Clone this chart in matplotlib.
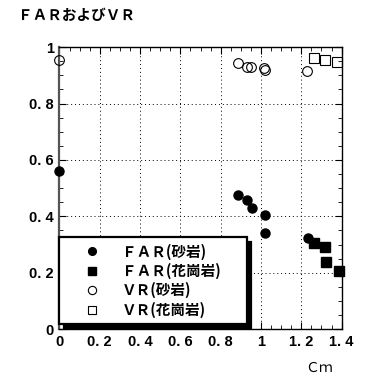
import matplotlib
matplotlib.use("Agg")
import matplotlib.pyplot as plt
from matplotlib.ticker import MultipleLocator

plt.rcParams['font.family'] = ['Noto Sans CJK JP', 'DejaVu Sans']

# FAR / VR vs Cm
far_sand_x = [0.0, 0.887, 0.932, 0.954, 1.02, 1.018, 1.235]
far_sand_y = [0.56, 0.475, 0.459, 0.428, 0.406, 0.341, 0.323]
far_gran_x = [1.263, 1.318, 1.323, 1.389]
far_gran_y = [0.306, 0.29, 0.238, 0.207]
vr_sand_x = [0.0, 0.887, 0.932, 0.95, 1.015, 1.018, 1.23]
vr_sand_y = [0.956, 0.942, 0.93, 0.93, 0.925, 0.918, 0.915]
vr_gran_x = [1.263, 1.316, 1.376]
vr_gran_y = [0.96, 0.956, 0.948]

xticks = [0, 0.2, 0.4, 0.6, 0.8, 1.0, 1.2, 1.4]
xticklabels = ['0', '0. 2', '0. 4', '0. 6', '0. 8', '1', '1. 2', '1. 4']
yticks = [0, 0.2, 0.4, 0.6, 0.8, 1.0]
yticklabels = ['0', '0. 2', '0. 4', '0. 6', '0. 8', '1']

fig = plt.figure(figsize=(3.65, 3.77), dpi=100)
ax = fig.add_axes([0.163, 0.127, 0.773, 0.748])

ms = 6.5
ax.plot(far_sand_x, far_sand_y, 'o', color='black', ms=ms, clip_on=False,
        zorder=5, label='ＦＡＲ(砂岩)')
ax.plot(far_gran_x, far_gran_y, 's', color='black', ms=ms, clip_on=False,
        zorder=5, label='ＦＡＲ(花崗岩)')
ax.plot(vr_sand_x, vr_sand_y, 'o', mfc='none', mec='black', mew=0.8, ms=7,
        clip_on=False, zorder=5, label='ＶＲ(砂岩)')
ax.plot(vr_gran_x, vr_gran_y, 's', mfc='none', mec='black', mew=0.8, ms=7,
        clip_on=False, zorder=5, label='ＶＲ(花崗岩)')

ax.set_xlim(0, 1.4)
ax.set_ylim(0, 1)
ax.set_xticks(xticks)
ax.set_xticklabels(xticklabels)
ax.set_yticks(yticks)
ax.set_yticklabels(yticklabels)
ax.xaxis.set_minor_locator(MultipleLocator(0.05))
ax.yaxis.set_minor_locator(MultipleLocator(0.05))
ax.tick_params(which='both', direction='in', top=True, right=True, color='black')
ax.tick_params(which='major', length=5, width=0.8, pad=4)
ax.tick_params(which='minor', length=3, width=0.6)
for lab in ax.get_xticklabels() + ax.get_yticklabels():
    lab.set_family(['Liberation Sans', 'DejaVu Sans'])
    lab.set_fontweight('bold')
    lab.set_fontsize(10.5)
for sp in ax.spines.values():
    sp.set_linewidth(1.0)
ax.spines['left'].set_linewidth(1.6)
ax.spines['left'].set_color('#555555')

ax.grid(True, which='major', color='black', linestyle=(0, (1, 3)), linewidth=0.7)

leg = ax.legend(loc='upper left', bbox_to_anchor=(0, 0, 0.665, 0.325),
                mode='expand', borderaxespad=0,
                fontsize=10.5, frameon=True, fancybox=False, edgecolor='black',
                framealpha=1, handlelength=3.6, handletextpad=0.3,
                borderpad=0.4, labelspacing=0.22, numpoints=1, markerscale=0.85,
                shadow={'color': 'black', 'alpha': 1, 'ox': 3, 'oy': -3})
leg.get_frame().set_linewidth(1.6)
leg.set_zorder(10)
for t in leg.get_texts():
    t.set_fontweight('bold')

fig.text(0.05, 0.96, 'ＦＡＲおよびＶＲ', fontsize=10.5, fontweight='bold',
         va='center', ha='left')
fig.text(0.875, 0.023, 'Ｃｍ', fontsize=10, va='center', ha='center')

fig.savefig('out.png', dpi=100)
